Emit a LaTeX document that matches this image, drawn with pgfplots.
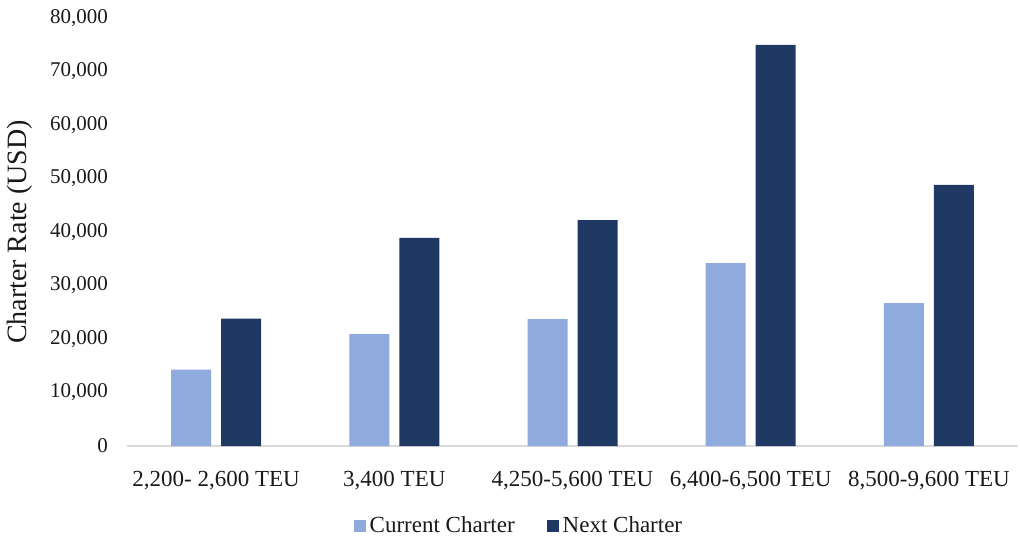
\documentclass[border=0pt]{standalone}
\usepackage{pgfplots}
\pgfplotsset{compat=1.18}
\usepackage{fontspec}
\setmainfont{Liberation Serif}
\definecolor{cur}{HTML}{8FAADC}
\definecolor{nxt}{HTML}{203864}
\definecolor{axgray}{HTML}{D9D9D9}
\begin{document}
\begin{tikzpicture}
\begin{axis}[
  scale only axis, width=445.5pt, height=214pt,
  xmin=-0.5, xmax=4.5, ymin=0, ymax=80000,
  ybar, bar width=20pt,
  xtick={0,1,2,3,4},
  xticklabels={{2,200- 2,600 TEU},{3,400 TEU},{4,250-5,600 TEU},{6,400-6,500 TEU},{8,500-9,600 TEU}},
  ytick={0,10000,...,80000},
  scaled y ticks=false,
  yticklabel style={/pgf/number format/fixed, /pgf/number format/1000 sep={,}, /pgf/number format/assume math mode=true, xshift=-6pt, font=\fontsize{10.5}{12}\selectfont},
  tick style={draw=none},
  axis x line*=bottom, axis y line*=left,
  x axis line style={draw=axgray, line width=1pt, -},
  y axis line style={draw=none},
  ticklabel style={text=black!90},
  xticklabel style={yshift=-5pt, font=\fontsize{11.5}{13}\selectfont},
  ylabel={Charter Rate (USD)},
  every axis y label/.style={at={(axis description cs:-0.12,0.5)}, anchor=center, rotate=90, font=\fontsize{14}{16}\selectfont, text=black!90},
  legend style={at={(0.441,-0.187)}, anchor=center, draw=none, legend columns=2, font=\fontsize{11.5}{13}\selectfont, text=black!90,
    /tikz/every even column/.append style={column sep=14pt}},
  legend image code/.code={\fill[#1] (0,-3pt) rectangle (6pt,3pt);},
  legend cell align=left,
]
\addplot[fill=cur, draw=none, bar shift=-12.5pt] coordinates {(0,14300) (1,20900) (2,23700) (3,34200) (4,26700)};
\addplot[fill=nxt, draw=none, bar shift=12.5pt] coordinates {(0,23800) (1,38900) (2,42200) (3,75000) (4,48800)};
\legend{Current Charter, Next Charter}
\end{axis}
\pgfresetboundingbox
\useasboundingbox (-63.5pt,-45.5pt) rectangle (446.5pt,223pt);
\end{tikzpicture}
\end{document}
